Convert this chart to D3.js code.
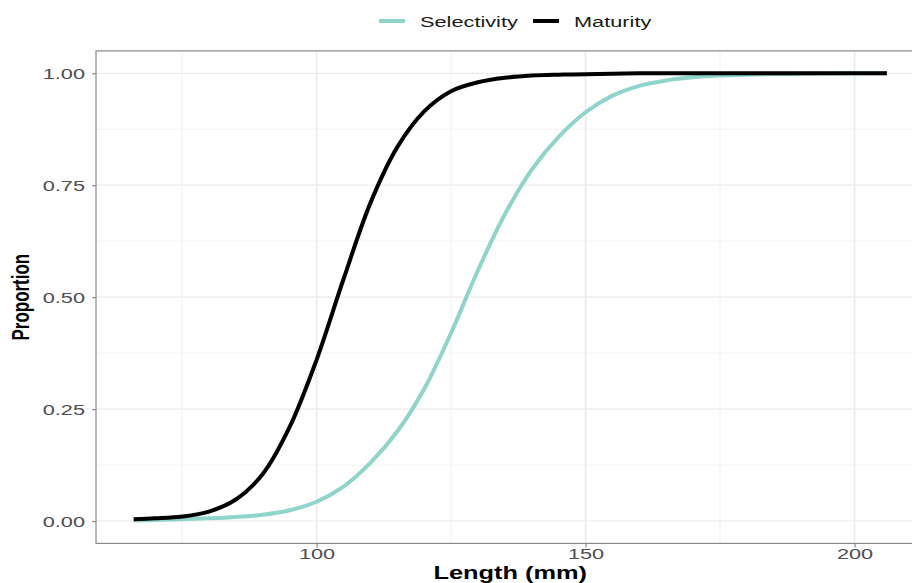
<!DOCTYPE html>
<html>
<head>
<meta charset="utf-8">
<script src="https://cdn.jsdelivr.net/npm/d3@7"></script>
<style>
  body { margin: 0; background: #fff; }
  text { font-family: "Liberation Sans", Arial, sans-serif; }
</style>
</head>
<body>
<script>
// values
const lengths = [66, 70, 75, 80, 85, 90, 95, 100, 105, 110, 115, 120, 125, 130, 135, 140, 145, 150, 155, 160, 165, 170, 175, 180, 190, 200, 206];
const maturity = [0.004, 0.006, 0.010, 0.021, 0.048, 0.105, 0.210, 0.360, 0.540, 0.710, 0.835, 0.915, 0.960, 0.980, 0.990, 0.995, 0.997, 0.998, 0.999, 1.0, 1.0, 1.0, 1.0, 1.0, 1.0, 1.0, 1.0];
const selectivity = [0.001, 0.002, 0.004, 0.006, 0.009, 0.014, 0.024, 0.043, 0.077, 0.130, 0.200, 0.295, 0.420, 0.560, 0.685, 0.785, 0.858, 0.913, 0.950, 0.972, 0.984, 0.991, 0.995, 0.997, 0.999, 1.0, 1.0];
const xTicks = [100, 150, 200];
const yTicks = [0, 0.25, 0.5, 0.75, 1];
const seriesNames = ["Selectivity", "Maturity"];
const seriesColors = ["#8fd5c9", "#000000"];

const width = 912, height = 583;
const stretch = 1.45; // text in the reference is widened horizontally

const x = d3.scaleLinear().domain([59, 213]).range([96, 924.5]);
const y = d3.scaleLinear().domain([-0.05, 1.05]).range([543.4, 50.9]);

const svg = d3.select("body").append("svg")
    .attr("width", width)
    .attr("height", height);

const [px0, px1] = x.range();
const [py0, py1] = y.range();

// minor grid
const minorX = xTicks.map(t => t - 25).concat([225]);
const minorY = yTicks.slice(1).map(t => t - 0.125);
svg.append("g").selectAll("line").data(minorX).enter().append("line")
    .attr("x1", d => x(d)).attr("x2", d => x(d))
    .attr("y1", py1).attr("y2", py0)
    .style("stroke", "#f3f3f3").style("stroke-width", 1.2);
svg.append("g").selectAll("line").data(minorY).enter().append("line")
    .attr("x1", px0).attr("x2", px1)
    .attr("y1", d => y(d)).attr("y2", d => y(d))
    .style("stroke", "#f3f3f3").style("stroke-width", 1);

// major grid
svg.append("g").selectAll("line").data(xTicks).enter().append("line")
    .attr("x1", d => x(d)).attr("x2", d => x(d))
    .attr("y1", py1).attr("y2", py0)
    .style("stroke", "#ebebeb").style("stroke-width", 1.6);
svg.append("g").selectAll("line").data(yTicks).enter().append("line")
    .attr("x1", px0).attr("x2", px1)
    .attr("y1", d => y(d)).attr("y2", d => y(d))
    .style("stroke", "#ebebeb").style("stroke-width", 1.2);

// curves
const line = d3.line()
    .x(d => x(d[0]))
    .y(d => y(d[1]))
    .curve(d3.curveCatmullRom.alpha(0.5));

[selectivity, maturity].forEach((vals, i) => {
    svg.append("path")
        .datum(lengths.map((l, j) => [l, vals[j]]))
        .attr("d", line)
        .style("fill", "none")
        .style("stroke", seriesColors[i])
        .style("stroke-width", 4);
});

// panel border
svg.append("rect")
    .attr("x", px0).attr("y", py1)
    .attr("width", px1 - px0).attr("height", py0 - py1)
    .style("fill", "none").style("stroke", "#8a8a8a").style("stroke-width", 1.2);

// axes
const xAxis = svg.append("g")
    .attr("transform", `translate(0,${py0})`)
    .call(d3.axisBottom(x).tickValues(xTicks).tickSize(4));
const yAxis = svg.append("g")
    .attr("transform", `translate(${px0},0)`)
    .call(d3.axisLeft(y).tickValues(yTicks).tickSize(4).tickFormat(d3.format(".2f")));

[xAxis, yAxis].forEach(a => {
    a.select(".domain").remove();
    a.selectAll(".tick line").style("stroke", "#8a8a8a").style("stroke-width", 1.2);
    a.selectAll(".tick text")
        .style("font-size", "15px")
        .style("fill", "#4d4d4d");
});
xAxis.selectAll(".tick text")
    .attr("y", 16).attr("dy", 0)
    .attr("transform", `scale(${stretch},1)`);
yAxis.selectAll(".tick text")
    .attr("x", -11 / stretch).attr("dy", "0.36em")
    .attr("transform", `scale(${stretch},1)`);

// axis titles
svg.append("text")
    .attr("transform", `translate(${(px0 + px1) / 2},579) scale(${stretch},1)`)
    .attr("text-anchor", "middle")
    .style("font-size", "17.5px")
    .style("font-weight", "bold")
    .text("Length (mm)");

svg.append("text")
    .attr("transform", `translate(29,${(py0 + py1) / 2}) scale(${stretch},1) rotate(-90)`)
    .attr("text-anchor", "middle")
    .style("font-size", "17px")
    .style("font-weight", "bold")
    .text("Proportion");

// legend
const legendX = [379, 533];
const legend = svg.append("g").selectAll("g").data(seriesNames).enter().append("g")
    .attr("transform", (d, i) => `translate(${legendX[i]},21)`);
legend.append("line")
    .attr("x1", 0).attr("x2", 26)
    .style("stroke", (d, i) => seriesColors[i])
    .style("stroke-width", 4);
legend.append("text")
    .attr("transform", `translate(41,5.5) scale(${stretch},1)`)
    .style("font-size", "15px")
    .style("fill", "#1a1a1a")
    .text(d => d);
</script>
</body>
</html>
